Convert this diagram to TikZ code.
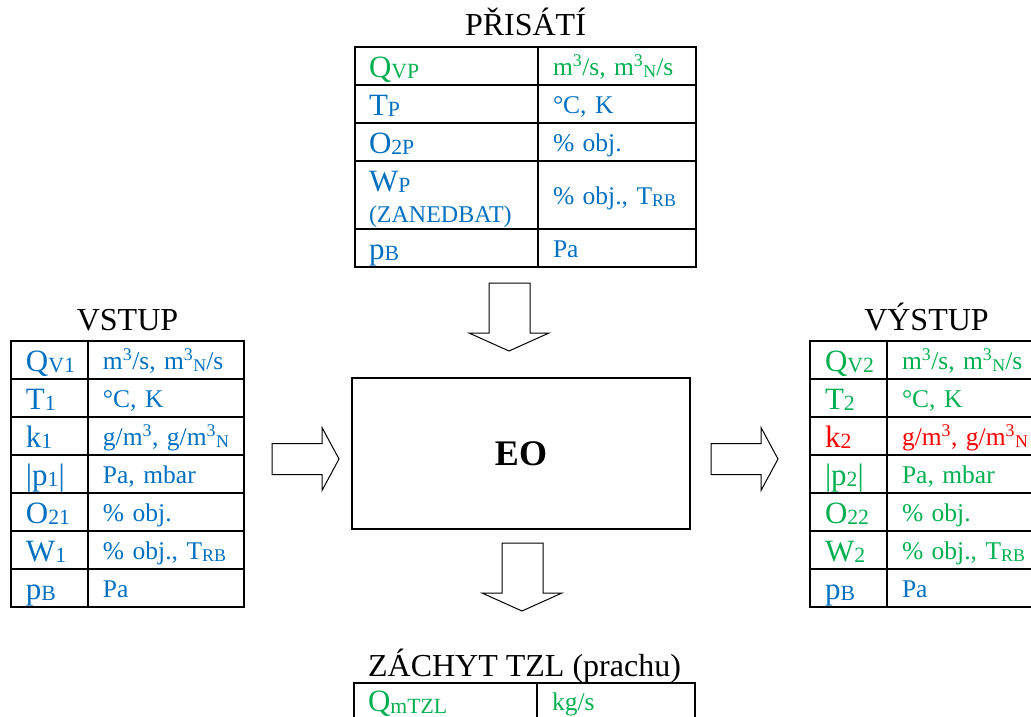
\documentclass[tikz,border=0pt]{standalone}
\usepackage{fontspec}
\setmainfont{Liberation Serif}
\usetikzlibrary{matrix,positioning,calc}

\definecolor{grn}{HTML}{00B050}
\definecolor{blu}{HTML}{0070C0}
\definecolor{rd}{HTML}{FF0000}

\makeatletter
\newcommand{\sbs}[1]{\raisebox{-0.06em}{\fontsize{\the\dimexpr0.7\dimexpr\f@size pt\relax\relax}{0pt}\selectfont #1}}
\makeatother
\newcommand{\bigtxt}{\fontsize{31}{31}\selectfont}
\newcommand{\smalltxt}{\fontsize{25.5}{31}\selectfont}
\newcommand{\hdtxt}{\fontsize{32}{36}\selectfont}
\newcommand{\mcub}{m\textsuperscript{3}}
\newcommand{\ncub}{m\textsuperscript{3}\sbs{N}}

\tikzset{
tbl/.style={matrix of nodes, inner sep=0pt, outer sep=0pt,
  row sep=-2pt, column sep=-2pt,
  nodes={draw, line width=2pt, anchor=center, minimum height=38pt,
    inner ysep=0pt, align=left},
  column 1/.style={nodes={font=\bigtxt, text height=26pt, text depth=4pt}},
  column 2/.style={nodes={font=\smalltxt, text height=24pt, text depth=5pt,
    inner xsep=15pt}}},
wide/.style={column 1/.append style={nodes={text width=155pt, inner xsep=14pt}},
  column 2/.append style={nodes={text width=128pt}}},
narrow/.style={column 1/.append style={nodes={text width=47pt, inner xsep=15pt}},
  column 2/.append style={nodes={text width=126pt}}},
head/.style={font=\hdtxt, inner sep=0pt, text depth=0pt},
flow/.style={draw, line width=1pt, fill=white}
}

\begin{document}
\begin{tikzpicture}[x=1pt,y=1pt]
\useasboundingbox (0,0) rectangle (1031,-717);

\node[draw, line width=2pt, minimum width=338pt, minimum height=151pt,
  font=\fontsize{36}{40}\selectfont\bfseries] (eo) at (521,-453.5) {EO};

% inflow from above
\matrix (prisati) [tbl, wide, anchor=north west, nodes={text=blu},
  row 1/.style={nodes={text=grn}},
  row 4/.style={nodes={minimum height=68pt}}] at (354,-46)
{
Q\sbs{VP} & \mcub/s,~\ncub/s \\
T\sbs{P} & °C,~K \\
O\sbs{2P} & \%~obj. \\
|[text height=20pt, text depth=28pt]| {W\sbs{P}\\{\fontsize{24}{31}\selectfont(ZANEDBAT)}} & \%~obj.,~T\sbs{RB} \\
p\sbs{B} & Pa \\
};
\node[head, above=10pt of prisati] (tprisati) {PŘISÁTÍ};

% inlet
\matrix (vstup) [tbl, narrow, anchor=north west, nodes={text=blu}] at (10,-340)
{
Q\sbs{V1} & \mcub/s,~\ncub/s \\
T\sbs{1} & °C,~K \\
k\sbs{1} & g/\mcub,~g/\ncub \\
\textbar p\sbs{1}\textbar & Pa,~mbar \\
O\sbs{21} & \%~obj. \\
W\sbs{1} & \%~obj.,~T\sbs{RB} \\
p\sbs{B} & Pa \\
};
\node[head, above=9pt of vstup] (tvstup) {VSTUP};

% outlet
\matrix (vystup) [tbl, narrow, anchor=north west, nodes={text=grn},
  row 3/.style={nodes={text=rd}},
  row 7/.style={nodes={text=blu}}] at (809,-340)
{
Q\sbs{V2} & \mcub/s,~\ncub/s \\
T\sbs{2} & °C,~K \\
k\sbs{2} & g/\mcub,~g/\ncub \\
\textbar p\sbs{2}\textbar & Pa,~mbar \\
O\sbs{22} & \%~obj. \\
W\sbs{2} & \%~obj.,~T\sbs{RB} \\
p\sbs{B} & Pa \\
};
\node[head, above=9pt of vystup] (tvystup) {VÝSTUP};

% dust catch
\matrix (zachyt) [tbl, wide, anchor=north west, nodes={text=grn},
  column 1/.append style={nodes={text depth=7pt}},
  column 2/.append style={nodes={text depth=8pt}}] at (353,-682)
{
Q\sbs{mTZL} & kg/s \\
};
\node[head, above=5pt of zachyt] (tzachyt) {ZÁCHYT TZL (prachu)};

% block arrows
\draw[flow] ($(eo.north)+(-12,26)$) -- ++(-40,18) -- ++(20,0) -- ++(0,50)
  -- ++(41,0) -- ++(0,-50) -- ++(19,0) -- cycle;
\draw[flow] ($(eo.south)+(1,-81)$) -- ++(-40,18) -- ++(20,0) -- ++(0,50)
  -- ++(41,0) -- ++(0,-50) -- ++(19,0) -- cycle;
\draw[flow] ($(eo.west)+(-12,-5.5)$) -- ++(-17,31.5) -- ++(0,-16) -- ++(-50,0)
  -- ++(0,-31) -- ++(50,0) -- ++(0,-16) -- cycle;
\draw[flow] ($(eo.east)+(87,-5.5)$) -- ++(-17,31.5) -- ++(0,-16) -- ++(-50,0)
  -- ++(0,-31) -- ++(50,0) -- ++(0,-16) -- cycle;
\end{tikzpicture}
\end{document}
